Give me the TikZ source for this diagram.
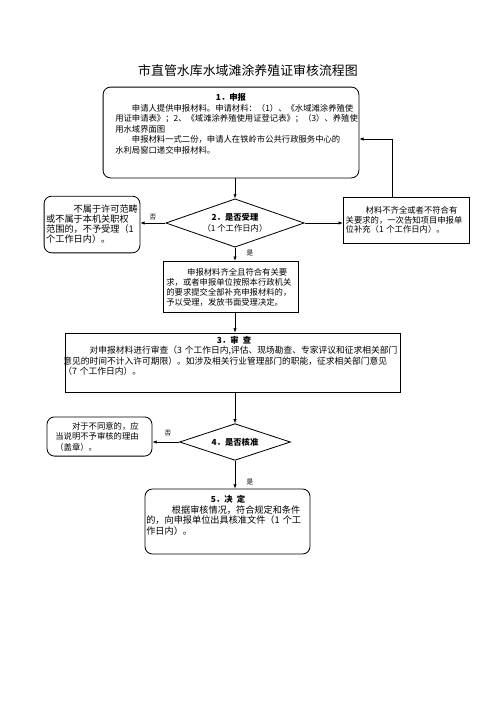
\documentclass[tikz,border=0pt]{standalone}
\usepackage{fontspec}
\setmainfont{Noto Sans CJK SC}
\usetikzlibrary{shapes.geometric,arrows.meta}

\tikzset{every picture/.style={line width=0.75pt}}

\begin{document}
\begin{tikzpicture}[x=1.2pt,y=1.2pt,yscale=-1,xscale=1,
  rbox/.style={draw,line width=1pt,rounded corners=9pt,inner sep=0pt},
  sbox/.style={draw,line width=1pt,inner sep=0pt},
  dmd/.style={draw,line width=1pt,diamond,aspect=3,inner sep=0pt,align=center,font=\fontsize{10}{12.5}\selectfont},
  txt/.style={font=\fontsize{10}{12.5}\selectfont,align=left,inner sep=0pt},
  hd/.style={font=\fontsize{10}{12}\selectfont\bfseries,inner sep=0pt},
  yn/.style={font=\fontsize{8}{9}\selectfont,inner sep=0pt},
  arr/.style={-{Latex[length=5pt,width=4pt]}}]
\useasboundingbox (0,0) rectangle (496,702);

% title
\node[font=\fontsize{15.5}{18}\selectfont,inner sep=0pt] (title) at (248,71) {市直管水库水域滩涂养殖证审核流程图};

% 1. shenbao
\node[rbox,minimum width=307pt,minimum height=109pt] (shen) at (231,132.5) {};
\node[hd] (shent) at (231,97) {1．申报};
\node[txt,text width=300pt,anchor=north west] (shenbody) at (115,104) {\hspace*{2em}申请人提供申报材料。申请材料：（1）、《水域滩涂养殖使\\
用证申请表》；2、《域滩涂养殖使用证登记表》；（3）、养殖使\\
用水域界面图\\
\hspace*{2em}申报材料一式二份，申请人在铁岭市公共行政服务中心的\\
水利局窗口递交申报材料。};

% 2. shouli
\node[dmd,minimum width=166pt,minimum height=58pt] (shouli) at (235,223) {\textbf{2．是否受理}\\（1 个工作日内）};
\node[rbox,txt,minimum width=115pt,minimum height=68pt,text width=110pt,font=\fontsize{11}{12}\selectfont] (buli) at (92,224.5) {\hspace*{3em}不属于许可范畴\\或不属于本机关职权\\范围的，不予受理（1\\个工作日内）。};
\node[sbox,txt,minimum width=152pt,minimum height=55pt,text width=146pt,font=\fontsize{10}{11.5}\selectfont] (buqi) at (406.5,220) {\hspace*{2.4em}材料不齐全或者不符合有\\关要求的，一次告知项目申报单\\位补充（1 个工作日内）。};
\node[sbox,txt,minimum width=162pt,minimum height=62pt,text width=154pt,font=\fontsize{10}{12}\selectfont] (qiquan) at (230.5,287) {\hspace*{2.5em}申报材料齐全且符合有关要\\求，或者申报单位按照本行政机关\\的要求提交全部补充申报材料的，\\予以受理，发放书面受理决定。};

% 3. shencha
\node[sbox,minimum width=402pt,minimum height=71pt] (shencha) at (232.5,362.5) {};
\node[hd] (shenchat) at (234,340) {3．审\hspace{0.5em}查};
\node[txt,text width=430pt,font=\fontsize{10.5}{12.5}\selectfont,anchor=north west] (shenchabody) at (63,346) {\hspace*{3em}对申报材料进行审查（3 个工作日内,评估、现场勘查、专家评议和征求相关部门\\
意见的时间不计入许可期限）。如涉及相关行业管理部门的职能，征求相关部门意见\\
（7 个工作日内）。};

% 4. hezhun
\node[dmd,minimum width=133pt,minimum height=44pt] (hezhun) at (235,442) {\textbf{4．是否核准}};
\node[rbox,txt,minimum width=126pt,minimum height=47pt,text width=106pt] (butong) at (99.5,436.5) {\hspace*{2em}对于不同意的，应\\当说明不予审核的理由\\（盖章）。};

% 5. jueding
\node[rbox,minimum width=198pt,minimum height=78pt] (jueding) at (227.5,521.5) {};
\node[hd] (juedingt) at (228,499) {5．决\hspace{0.5em}定};
\node[txt,text width=210pt,font=\fontsize{11}{12.8}\selectfont,anchor=north west] (juedingbody) at (146,505) {\hspace*{2.8em}根据审核情况，符合规定和条件\\的，向申报单位出具核准文件（1 个工\\作日内）。};

% connectors
\coordinate (fb) at (392,139);
\draw[arr] (shouli.north |- shen.south) -- (shouli.north);
\draw[arr] (shouli.west) -- (shouli.west -| buli.east);
\draw[arr] (shouli.east) -- (shouli.east -| buqi.west);
\draw[arr] (fb |- buqi.north) -- (fb) -- (fb -| shen.east);
\draw[arr] (shouli.south) -- (shouli.south |- qiquan.north);
\draw[arr] (hezhun.north |- qiquan.south) -- (hezhun.north |- shencha.north);
\draw[arr] (hezhun.north |- shencha.south) -- (hezhun.north);
\draw[arr] (hezhun.west) -- (hezhun.west -| butong.east);
\draw[arr] (hezhun.south) -- (hezhun.south |- jueding.north);

% yes / no
\node[yn] (fou1) at (153,217) {否};
\node[yn] (shi1) at (250,253) {是};
\node[yn] (fou2) at (168,433) {否};
\node[yn] (shi2) at (250,482) {是};

\end{tikzpicture}
\end{document}
